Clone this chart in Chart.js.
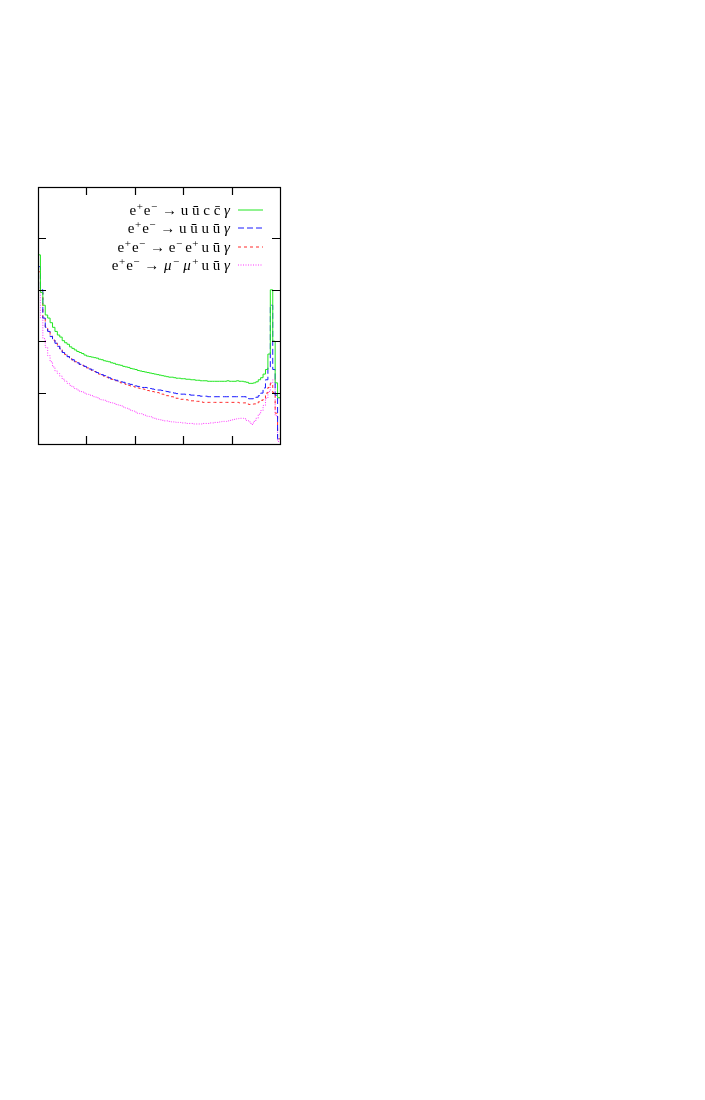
<!DOCTYPE html>
<html>
<head>
<meta charset="utf-8">
<script src="https://cdn.jsdelivr.net/npm/chart.js@4/dist/chart.umd.min.js"></script>
<style>
  body { margin: 0; background: #fff; }
  #wrap { position: relative; width: 705px; height: 1100px; }
  #plot { position: absolute; left: 0; top: 0; }
  #legend { position: absolute; left: 0; top: 0; width: 705px; font-family: "Liberation Serif", serif; font-size: 15px; color: #000; }
  .row { position: absolute; right: 475px; height: 18px; line-height: 18px; white-space: nowrap; }
  .row i { font-style: italic; }
  .sup { font-size: 11px; position: relative; top: -5px; padding: 0 1px 0 0.5px; }
  .sup.w { padding-right: 3px; }
  .row i.m { margin: 0 1px; }
</style>
</head>
<body>
<div id="wrap">
  <canvas id="plot" width="705" height="1100"></canvas>
  <div id="legend"></div>
</div>
<script>
// histogram, 100 bins over the frame, values in frame units (0..5)
const uuccValues = [
  3.68, 2.95, 2.70, 2.51, 2.45, 2.36, 2.27, 2.19, 2.12, 2.08,
  2.01, 1.97, 1.94, 1.89, 1.86, 1.83, 1.80, 1.78, 1.76, 1.73,
  1.71, 1.70, 1.69, 1.68, 1.67, 1.65, 1.64, 1.62, 1.61, 1.60,
  1.58, 1.57, 1.55, 1.54, 1.53, 1.51, 1.50, 1.49, 1.47, 1.46,
  1.45, 1.43, 1.42, 1.41, 1.40, 1.39, 1.38, 1.37, 1.36, 1.35,
  1.34, 1.33, 1.32, 1.31, 1.30, 1.30, 1.29, 1.28, 1.28, 1.27,
  1.27, 1.26, 1.26, 1.25, 1.25, 1.24, 1.24, 1.23, 1.23, 1.23,
  1.22, 1.22, 1.22, 1.22, 1.22, 1.22, 1.22, 1.22, 1.23, 1.22,
  1.22, 1.22, 1.23, 1.22, 1.22, 1.21, 1.20, 1.18, 1.18, 1.19,
  1.21, 1.25, 1.29, 1.36, 1.45, 1.75, 3.00, 2.00, 1.19, 0.90
];
const uuuuValues = [
  3.45, 3.00, 2.45, 2.27, 2.19, 2.09, 2.02, 1.96, 1.90, 1.85,
  1.78, 1.74, 1.70, 1.66, 1.64, 1.61, 1.58, 1.55, 1.53, 1.51,
  1.49, 1.46, 1.44, 1.41, 1.39, 1.37, 1.35, 1.33, 1.31, 1.29,
  1.27, 1.25, 1.24, 1.22, 1.21, 1.20, 1.18, 1.17, 1.16, 1.15,
  1.13, 1.12, 1.11, 1.10, 1.10, 1.09, 1.08, 1.07, 1.06, 1.05,
  1.05, 1.04, 1.03, 1.02, 1.01, 1.00, 0.99, 0.98, 0.98, 0.97,
  0.97, 0.96, 0.96, 0.95, 0.95, 0.94, 0.94, 0.93, 0.93, 0.93,
  0.92, 0.92, 0.92, 0.92, 0.92, 0.92, 0.92, 0.92, 0.92, 0.92,
  0.92, 0.92, 0.92, 0.92, 0.92, 0.92, 0.90, 0.88, 0.88, 0.89,
  0.91, 0.94, 0.99, 1.09, 1.25, 1.50, 2.70, 1.45, 0.95, 0.10
];
const eeuuValues = [
  3.35, 2.95, 2.45, 2.28, 2.19, 2.10, 2.02, 1.96, 1.90, 1.85,
  1.79, 1.74, 1.70, 1.66, 1.63, 1.60, 1.58, 1.55, 1.53, 1.50,
  1.48, 1.46, 1.43, 1.41, 1.38, 1.36, 1.34, 1.32, 1.30, 1.28,
  1.26, 1.24, 1.23, 1.21, 1.19, 1.18, 1.16, 1.14, 1.13, 1.12,
  1.10, 1.09, 1.08, 1.07, 1.06, 1.04, 1.03, 1.02, 1.01, 1.00,
  0.99, 0.97, 0.96, 0.94, 0.93, 0.92, 0.90, 0.89, 0.88, 0.87,
  0.87, 0.86, 0.85, 0.84, 0.84, 0.83, 0.83, 0.82, 0.81, 0.81,
  0.81, 0.81, 0.81, 0.81, 0.81, 0.81, 0.81, 0.81, 0.81, 0.81,
  0.81, 0.81, 0.81, 0.80, 0.80, 0.80, 0.78, 0.77, 0.77, 0.78,
  0.79, 0.82, 0.85, 0.89, 0.99, 1.10, 1.18, 1.00, 0.60, 0.10
];
const mumuValues = [
  3.10, 2.45, 2.05, 1.88, 1.72, 1.60, 1.50, 1.42, 1.37, 1.32,
  1.26, 1.22, 1.18, 1.14, 1.11, 1.08, 1.05, 1.03, 1.01, 0.99,
  0.97, 0.95, 0.94, 0.92, 0.90, 0.88, 0.86, 0.85, 0.83, 0.82,
  0.80, 0.79, 0.77, 0.76, 0.74, 0.72, 0.70, 0.68, 0.66, 0.64,
  0.62, 0.60, 0.59, 0.57, 0.56, 0.54, 0.53, 0.51, 0.50, 0.48,
  0.47, 0.46, 0.45, 0.45, 0.44, 0.43, 0.43, 0.42, 0.42, 0.41,
  0.41, 0.40, 0.40, 0.40, 0.39, 0.39, 0.39, 0.39, 0.40, 0.40,
  0.40, 0.41, 0.41, 0.42, 0.42, 0.43, 0.44, 0.44, 0.45, 0.46,
  0.47, 0.48, 0.49, 0.50, 0.50, 0.49, 0.46, 0.43, 0.38, 0.44,
  0.50, 0.58, 0.65, 0.75, 0.89, 1.02, 1.19, 1.25, 0.55, 0.05
];

const legendLabels = [
  'e<span class="sup">+</span>e<span class="sup">\u2212</span> \u2192 u \u016b c c\u0304 <i>\u03b3</i>',
  'e<span class="sup">+</span>e<span class="sup">\u2212</span> \u2192 u \u016b u \u016b <i>\u03b3</i>',
  'e<span class="sup">+</span>e<span class="sup">\u2212</span> \u2192 e<span class="sup w">\u2212</span>e<span class="sup w">+</span>u \u016b <i>\u03b3</i>',
  'e<span class="sup">+</span>e<span class="sup">\u2212</span> \u2192 <i class="m">\u03bc</i><span class="sup w">\u2212</span><i class="m">\u03bc</i><span class="sup w">+</span>u \u016b <i>\u03b3</i>'
];
const seriesNames = ["uuccγ", "uuuuγ", "eeuuγ", "μμuuγ"];
const xTicks = [20, 40, 60, 80];
const yTicks = [1, 2, 3, 4];

function toSteps(values) {
  let pts = values.map((v, i) => ({ x: i, y: v }));
  pts.push({ x: values.length, y: values[values.length - 1] });
  return pts;
}

const styles = [
  { color: "#22e622", dash: [] },
  { color: "#1a1aff", dash: [6, 3] },
  { color: "#ff2a2a", dash: [3, 3] },
  { color: "#ff33ff", dash: [1, 1.5] }
];

const allValues = [uuccValues, uuuuValues, eeuuValues, mumuValues];
const rowTops = [201, 219, 237.5, 255.5];

const framePlugin = {
  id: "frame",
  afterDatasetsDraw(chart) {
    const ctx = chart.ctx;
    const a = chart.chartArea;
    const xs = chart.scales.x;
    const ys = chart.scales.y;
    const tl = 8;
    ctx.save();
    ctx.strokeStyle = "#000";
    ctx.lineWidth = 1.2;
    ctx.strokeRect(a.left + 0.5, a.top + 0.5, a.right - a.left, a.bottom - a.top);
    ctx.beginPath();
    xTicks.forEach((t) => {
      const px = Math.round(xs.getPixelForValue(t)) + 0.5;
      ctx.moveTo(px, a.bottom); ctx.lineTo(px, a.bottom - tl);
      ctx.moveTo(px, a.top); ctx.lineTo(px, a.top + tl);
    });
    yTicks.forEach((t) => {
      const py = Math.round(ys.getPixelForValue(t)) + 0.5;
      ctx.moveTo(a.left, py); ctx.lineTo(a.left + tl, py);
      ctx.moveTo(a.right, py); ctx.lineTo(a.right - tl, py);
    });
    ctx.stroke();
    // legend samples
    chart.data.datasets.forEach((ds, i) => {
      const y = Math.round(rowTops[i] + 9);
      ctx.beginPath();
      ctx.strokeStyle = ds.borderColor;
      ctx.lineWidth = 1;
      ctx.setLineDash(ds.borderDash);
      ctx.moveTo(238, y);
      ctx.lineTo(263, y);
      ctx.stroke();
    });
    ctx.restore();
  }
};

const chart = new Chart(document.getElementById("plot"), {
  type: "line",
  data: {
    datasets: allValues.map((vals, i) => ({
      label: seriesNames[i],
      data: toSteps(vals),
      stepped: "before", // horizontal at the bin value, then vertical
      borderColor: styles[i].color,
      borderDash: styles[i].dash,
      borderWidth: 1,
      pointRadius: 0,
      fill: false
    }))
  },
  options: {
    responsive: false,
    animation: false,
    devicePixelRatio: 1,
    layout: { padding: { left: 38, top: 187, right: 425, bottom: 656 } },
    plugins: { legend: { display: false }, tooltip: { enabled: false } },
    scales: {
      x: { type: "linear", min: 0, max: 100, display: false },
      y: { type: "linear", min: 0, max: 5, display: false }
    }
  },
  plugins: [framePlugin]
});

// html legend text
const legend = document.getElementById("legend");
legendLabels.forEach((html, i) => {
  const row = document.createElement("div");
  row.className = "row";
  row.style.top = rowTops[i] + "px";
  row.innerHTML = html;
  legend.appendChild(row);
});
</script>
</body>
</html>
